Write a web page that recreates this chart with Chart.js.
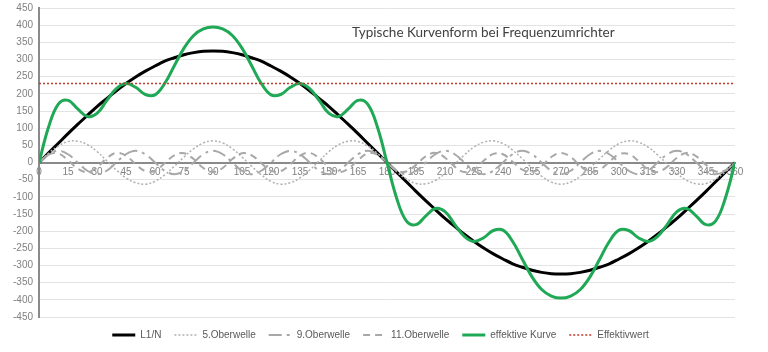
<!DOCTYPE html>
<html>
<head>
<meta charset="utf-8">
<script src="https://cdn.jsdelivr.net/npm/chart.js@4/dist/chart.umd.min.js"></script>
<style>
  html, body { margin: 0; padding: 0; background: #fff; }
  #wrap { width: 768px; height: 352px; }
</style>
</head>
<body>
<div id="wrap"><canvas id="kurve" width="768" height="352"></canvas></div>
<script>
// Winkel in Grad (alle 5°)
const winkel = [0, 5, 10, 15, 20, 25, 30, 35, 40, 45, 50, 55, 60, 65, 70, 75, 80, 85, 90,
  95, 100, 105, 110, 115, 120, 125, 130, 135, 140, 145, 150, 155, 160, 165, 170, 175, 180,
  185, 190, 195, 200, 205, 210, 215, 220, 225, 230, 235, 240, 245, 250, 255, 260, 265, 270,
  275, 280, 285, 290, 295, 300, 305, 310, 315, 320, 325, 330, 335, 340, 345, 350, 355, 360]

const grundwelle = [0, 28, 56, 84, 111, 137, 163, 186, 209, 230, 249, 266, 281, 295, 305, 314, 320, 324, 325,
  324, 320, 314, 305, 295, 281, 266, 249, 230, 209, 186, 163, 137, 111, 84, 56, 28, 0,
  -28, -56, -84, -111, -137, -163, -186, -209, -230, -249, -266, -281, -295, -305, -314, -320, -324, -325,
  -324, -320, -314, -305, -295, -281, -266, -249, -230, -209, -186, -163, -137, -111, -84, -56, -28, 0]

const oberwelle5 = [0, 27, 48, 61, 62, 52, 32, 5, -22, -45, -59, -63, -55, -36, -11, 16, 40, 57, 63,
  57, 40, 16, -11, -36, -55, -63, -59, -45, -22, 5, 32, 52, 62, 61, 48, 27, 0,
  -27, -48, -61, -62, -52, -32, -5, 22, 45, 59, 63, 55, 36, 11, -16, -40, -57, -63,
  -57, -40, -16, 11, 36, 55, 63, 59, 45, 22, -5, -32, -52, -62, -61, -48, -27, 0]

const oberwelle9 = [0, 24, 34, 24, 0, -24, -34, -24, 0, 24, 34, 24, 0, -24, -34, -24, 0, 24, 34,
  24, 0, -24, -34, -24, 0, 24, 34, 24, 0, -24, -34, -24, 0, 24, 34, 24, 0,
  -24, -34, -24, 0, 24, 34, 24, 0, -24, -34, -24, 0, 24, 34, 24, 0, -24, -34,
  -24, 0, 24, 34, 24, 0, -24, -34, -24, 0, 24, 34, 24, 0, -24, -34, -24, 0]

const oberwelle11 = [0, 23, 26, 7, -18, -28, -14, 12, 28, 20, -5, -25, -24, -2, 21, 27, 10, -16, -28,
  -16, 10, 27, 21, -2, -24, -25, -5, 20, 28, 12, -14, -28, -18, 7, 26, 23, 0,
  -23, -26, -7, 18, 28, 14, -12, -28, -20, 5, 25, 24, 2, -21, -27, -10, 16, 28,
  16, -10, -27, -21, 2, 24, 25, 5, -20, -28, -12, 14, 28, 18, -7, -26, -23, 0]

const effektiveKurve = [0, 104, 170, 181, 156, 134, 143, 180, 215, 230, 219, 198, 197, 230, 282, 333, 370, 389, 395,
  389, 370, 333, 282, 230, 197, 198, 219, 230, 215, 180, 143, 134, 156, 181, 170, 104, 0,
  -104, -170, -181, -156, -134, -143, -180, -215, -230, -219, -198, -197, -230, -282, -333, -370, -389, -395,
  -389, -370, -333, -282, -230, -197, -198, -219, -230, -215, -180, -143, -134, -156, -181, -170, -104, 0]

const effektivwert = 230

const titel = 'Typische Kurvenform bei Frequenzumrichter'

// Punkte {x, y} aus den Listen bauen
const punkte = werte => werte.map((v, i) => ({ x: winkel[i], y: v }))

const grau = '#a8a8a8'

// Titel sitzt im Diagramm, rechts von der Mitte
const titelPlugin = {
  id: 'titelImDiagramm',
  afterDraw(chart) {
    const { ctx, chartArea } = chart
    ctx.save()
    ctx.font = '13.5px Lato'
    ctx.fillStyle = '#404040'
    ctx.textAlign = 'left'
    ctx.textBaseline = 'middle'
    ctx.fillText(titel, chartArea.left + 313, chartArea.top + 25)
    ctx.restore()
  }
}

// Legendenlinien mit Strichmuster der Datenreihe
function legendenEintraege(chart) {
  const items = Chart.defaults.plugins.legend.labels.generateLabels(chart)
  items.forEach(it => {
    const ds = chart.data.datasets[it.datasetIndex]
    it.lineDash = ds.borderDash || []
    it.lineWidth = ds.borderWidth
    it.strokeStyle = ds.borderColor
  })
  return items
}

new Chart(document.getElementById('kurve'), {
  type: 'line',
  data: {
    datasets: [
      {
        label: 'L1/N',
        data: punkte(grundwelle),
        borderColor: '#000000',
        borderWidth: 3,
        order: 5
      },
      {
        label: '5.Oberwelle',
        data: punkte(oberwelle5),
        borderColor: '#b0b0b0',
        borderWidth: 1.5,
        borderDash: [2, 2],
        order: 4
      },
      {
        label: '9.Oberwelle',
        data: punkte(oberwelle9),
        borderColor: grau,
        borderWidth: 2,
        borderDash: [13, 5, 3, 5],
        order: 3
      },
      {
        label: '11.Oberwelle',
        data: punkte(oberwelle11),
        borderColor: grau,
        borderWidth: 2,
        borderDash: [7, 5],
        order: 2
      },
      {
        label: 'effektive Kurve',
        data: punkte(effektiveKurve),
        borderColor: '#1fa855',
        borderWidth: 3,
        order: 1
      },
      {
        label: 'Effektivwert',
        data: [{ x: winkel[0], y: effektivwert }, { x: winkel[winkel.length - 1], y: effektivwert }],
        borderColor: '#c0392b',
        borderWidth: 1.5,
        borderDash: [2, 2],
        tension: 0,
        order: 0
      }
    ]
  },
  options: {
    responsive: false,
    animation: false,
    layout: { padding: { top: 8, right: 7, left: 0, bottom: 2 } },
    elements: {
      point: { radius: 0 },
      line: { tension: 0.4, fill: false }
    },
    scales: {
      x: {
        type: 'linear',
        position: { y: 0 },
        min: 0,
        max: 360,
        grid: { display: false, drawTicks: false },
        border: { color: '#8a8a8a', width: 2 },
        ticks: {
          stepSize: 15,
          autoSkip: false,
          maxRotation: 0,
          padding: 4,
          color: '#808080',
          font: { family: 'Liberation Sans', size: 10 }
        }
      },
      y: {
        min: -450,
        max: 450,
        afterFit: s => {
          s.width = 39
          s.paddingTop = 0
          s.paddingBottom = 0
        },
        grid: { color: '#e3e3e3', drawTicks: false },
        border: { color: '#8a8a8a', width: 2 },
        ticks: {
          stepSize: 50,
          padding: 6,
          color: '#808080',
          font: { family: 'Liberation Sans', size: 10 }
        }
      },
      // leerer Rand rechts neben der Zeichenfläche
      rand: {
        position: 'right',
        min: -450,
        max: 450,
        afterFit: s => { s.width = 26 },
        grid: { display: false, drawTicks: false },
        border: { display: false },
        ticks: { display: false }
      }
    },
    plugins: {
      legend: {
        position: 'bottom',
        labels: {
          usePointStyle: true,
          pointStyle: 'line',
          pointStyleWidth: 23,
          padding: 13,
          color: '#595959',
          font: { family: 'Liberation Sans', size: 10 },
          generateLabels: legendenEintraege,
          sort: (a, b) => a.datasetIndex - b.datasetIndex
        }
      },
      tooltip: { enabled: false },
      title: { display: false }
    }
  },
  plugins: [titelPlugin]
})
</script>
</body>
</html>
